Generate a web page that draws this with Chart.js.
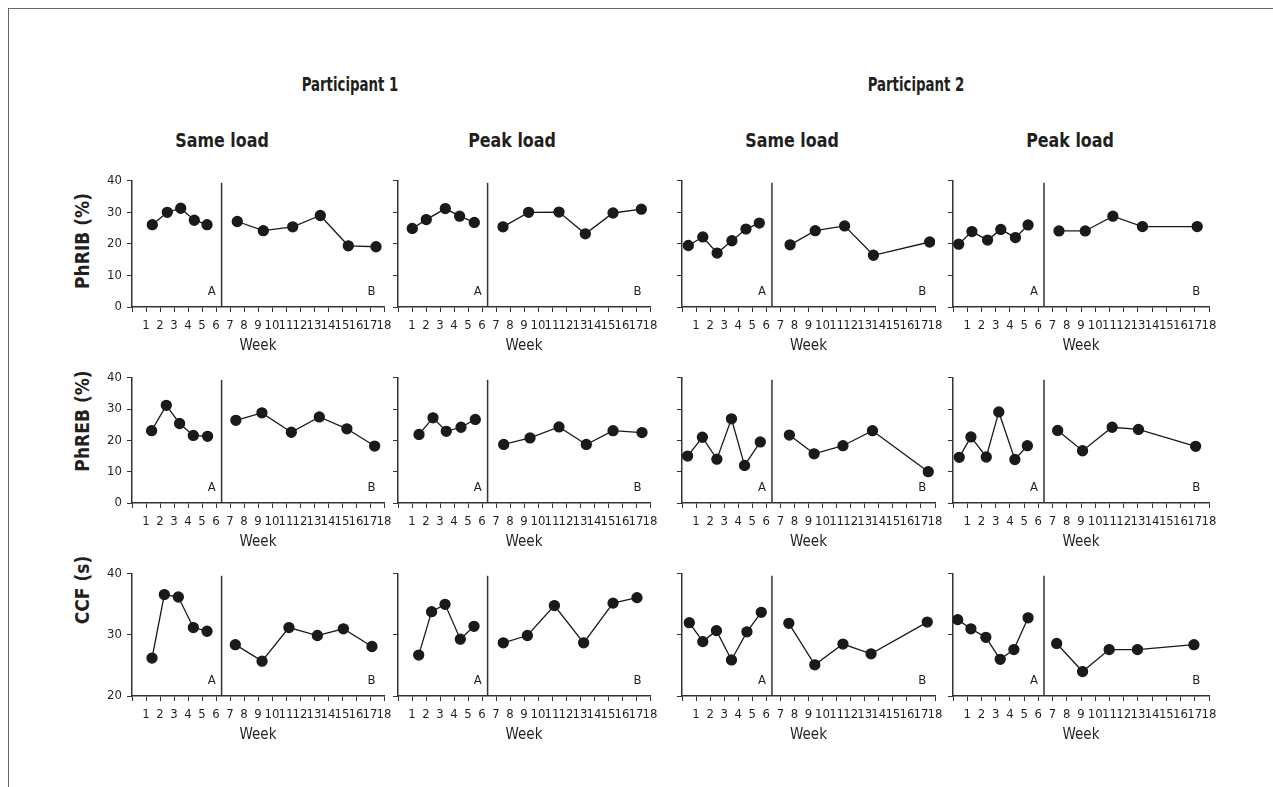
<!DOCTYPE html>
<html>
<head>
<meta charset="utf-8">
<script src="https://cdn.jsdelivr.net/npm/chart.js@4.4.1/dist/chart.umd.min.js"></script>
<style>
  body { margin: 0; background: #fff; width: 1273px; height: 787px; overflow: hidden; position: relative;
         font-family: 'Liberation Sans Narrow', 'DejaVu Sans Condensed', sans-serif; color: #231f20; }
  .frame { position: absolute; left: 8px; top: 8px; width: 1300px; height: 800px;
           border-top: 1px solid #666; border-left: 1px solid #666; }
  .title { position: absolute; font-weight: bold; font-size: 19px; transform: translate(-50%, -50%) scaleX(0.93); white-space: nowrap; }
  .title.big { font-size: 19px; transform: translate(-50%, -50%) scaleX(0.78); }
  .ylab { position: absolute; font-weight: bold; font-size: 19px; white-space: nowrap;
          transform: translate(-50%, -50%) rotate(-90deg); }
  canvas { position: absolute; }
</style>
</head>
<body>
<div class="frame"></div>
<div id="root"></div>
<script>
// week positions and values, phase A (baseline) and phase B
const ribP1SameA = [[1.45, 26.1], [2.52, 30.0], [3.48, 31.3], [4.45, 27.5], [5.36, 26.1]];
const ribP1SameB = [[7.52, 27.1], [9.38, 24.2], [11.48, 25.4], [13.45, 29.0], [15.45, 19.4], [17.43, 19.1]];
const ribP1PeakA = [[1.02, 24.9], [2.02, 27.7], [3.38, 31.2], [4.40, 28.8], [5.45, 26.8]];
const ribP1PeakB = [[7.5, 25.4], [9.33, 30.0], [11.5, 30.1], [13.38, 23.2], [15.36, 29.8], [17.38, 31.0]];
const ribP2SameA = [[0.45, 19.5], [1.48, 22.2], [2.5, 17.1], [3.55, 21.0], [4.55, 24.7], [5.5, 26.6]];
const ribP2SameB = [[7.69, 19.7], [9.48, 24.2], [11.57, 25.7], [13.62, 16.4], [17.62, 20.6]];
const ribP2PeakA = [[0.4, 19.9], [1.33, 23.9], [2.43, 21.2], [3.36, 24.6], [4.39, 22.0], [5.28, 26.0]];
const ribP2PeakB = [[7.45, 24.1], [9.3, 24.1], [11.24, 28.8], [13.32, 25.5], [17.17, 25.5]];

const rebP1SameA = [[1.4, 23.1], [2.45, 31.2], [3.4, 25.4], [4.38, 21.6], [5.4, 21.3]];
const rebP1SameB = [[7.42, 26.4], [9.28, 28.8], [11.38, 22.6], [13.38, 27.5], [15.35, 23.7], [17.33, 18.2]];
const rebP1PeakA = [[1.5, 21.9], [2.5, 27.2], [3.45, 22.9], [4.5, 24.2], [5.52, 26.7]];
const rebP1PeakB = [[7.55, 18.7], [9.43, 20.8], [11.5, 24.3], [13.45, 18.7], [15.36, 23.1], [17.43, 22.5]];
const rebP2SameA = [[0.4, 15.0], [1.45, 21.0], [2.48, 14.0], [3.52, 26.9], [4.45, 12.0], [5.57, 19.5]];
const rebP2SameB = [[7.64, 21.7], [9.4, 15.7], [11.45, 18.3], [13.55, 23.1], [17.52, 10.0]];
const rebP2PeakA = [[0.44, 14.6], [1.26, 21.1], [2.34, 14.7], [3.22, 29.1], [4.35, 13.9], [5.23, 18.3]];
const rebP2PeakB = [[7.36, 23.2], [9.11, 16.7], [11.19, 24.2], [13.04, 23.5], [17.06, 18.1]];

const ccfP1SameA = [[1.43, 26.2], [2.31, 36.6], [3.31, 36.2], [4.38, 31.2], [5.36, 30.6]];
const ccfP1SameB = [[7.38, 28.4], [9.29, 25.7], [11.21, 31.2], [13.24, 29.9], [15.1, 31.0], [17.14, 28.1]];
const ccfP1PeakA = [[1.48, 26.7], [2.4, 33.8], [3.36, 35.0], [4.45, 29.3], [5.43, 31.4]];
const ccfP1PeakB = [[7.52, 28.7], [9.24, 29.9], [11.17, 34.8], [13.26, 28.7], [15.36, 35.2], [17.07, 36.1]];
const ccfP2SameA = [[0.52, 32.0], [1.48, 28.9], [2.45, 30.7], [3.52, 25.9], [4.62, 30.5], [5.64, 33.7]];
const ccfP2SameB = [[7.6, 31.9], [9.45, 25.1], [11.45, 28.5], [13.45, 26.9], [17.45, 32.1]];
const ccfP2PeakA = [[0.33, 32.5], [1.26, 31.0], [2.31, 29.6], [3.32, 26.0], [4.28, 27.6], [5.28, 32.8]];
const ccfP2PeakB = [[7.29, 28.6], [9.11, 24.0], [10.98, 27.6], [12.97, 27.6], [16.94, 28.4]];

const participants = ['Participant 1', 'Participant 2'];
const conditions = ['Same load', 'Peak load', 'Same load', 'Peak load'];
const measures = ['PhRIB (%)', 'PhREB (%)', 'CCF (s)'];
const yRanges = [[0, 40], [0, 40], [20, 40]];
const weekRange = [0, 18];
const phaseSplit = 6.4;
const phaseLabels = [['A', 5.7], ['B', 17.1]];

const panels = [
  [[ribP1SameA, ribP1SameB], [ribP1PeakA, ribP1PeakB], [ribP2SameA, ribP2SameB], [ribP2PeakA, ribP2PeakB]],
  [[rebP1SameA, rebP1SameB], [rebP1PeakA, rebP1PeakB], [rebP2SameA, rebP2SameB], [rebP2PeakA, rebP2PeakB]],
  [[ccfP1SameA, ccfP1SameB], [ccfP1PeakA, ccfP1PeakB], [ccfP2SameA, ccfP2SameB], [ccfP2PeakA, ccfP2PeakB]]
];

// plot-area placement on the page
const colBox = [[132, 252], [398, 252], [682, 253], [953, 256]];
const rowBox = [[178, 129], [375, 128], [571, 125]];
const FONT = "'Liberation Sans Narrow', 'DejaVu Sans Condensed', sans-serif";
const INK = '#231f20';
const AXIS_W = 40, AXIS_H = 48, PAD_T = 10, PAD_R = 16;

Chart.defaults.font.family = FONT;
Chart.defaults.color = INK;

const root = document.getElementById('root');

function addText(cls, text, x, y) {
  const d = document.createElement('div');
  d.className = cls;
  d.textContent = text;
  d.style.left = x + 'px';
  d.style.top = y + 'px';
  root.appendChild(d);
}

addText('title big', participants[0], 350, 84);
addText('title big', participants[1], 916, 84);
[222, 512, 792, 1070].forEach((x, i) => addText('title', conditions[i], x, 140));
[241, 421, 590].forEach((y, i) => addText('ylab', measures[i], 82, y));

const phasePlugin = {
  id: 'phase',
  beforeDatasetsDraw(chart) {
    const { ctx, chartArea, scales } = chart;
    const x = scales.x.getPixelForValue(phaseSplit);
    ctx.save();
    ctx.strokeStyle = '#333';
    ctx.lineWidth = 1.5;
    ctx.beginPath();
    ctx.moveTo(x, chartArea.top + 2);
    ctx.lineTo(x, chartArea.bottom);
    ctx.stroke();
    ctx.fillStyle = INK;
    ctx.font = '13px ' + FONT;
    ctx.textAlign = 'center';
    ctx.textBaseline = 'middle';
    phaseLabels.forEach(([t, v]) => {
      ctx.fillText(t, scales.x.getPixelForValue(v), chartArea.bottom - 15);
    });
    ctx.restore();
  }
};

function series(points) {
  return {
    data: points.map(([x, y]) => ({ x, y })),
    showLine: true,
    borderColor: '#1a1a1a',
    backgroundColor: '#1a1a1a',
    borderWidth: 1.3,
    pointRadius: 5,
    pointHoverRadius: 5,
    tension: 0
  };
}

panels.forEach((row, r) => {
  row.forEach(([phaseA, phaseB], c) => {
    const [left, w] = colBox[c];
    const [top, h] = rowBox[r];
    const canvas = document.createElement('canvas');
    canvas.width = w + AXIS_W + PAD_R;
    canvas.height = h + PAD_T + AXIS_H;
    canvas.style.left = (left - AXIS_W) + 'px';
    canvas.style.top = (top - PAD_T) + 'px';
    root.appendChild(canvas);

    new Chart(canvas, {
      type: 'scatter',
      data: { datasets: [series(phaseA), series(phaseB)] },
      options: {
        responsive: false,
        animation: false,
        layout: { padding: { top: PAD_T, right: PAD_R, left: 0, bottom: 0 } },
        plugins: { legend: { display: false }, tooltip: { enabled: false } },
        scales: {
          x: {
            type: 'linear',
            min: weekRange[0],
            max: weekRange[1],
            afterFit: s => { s.height = AXIS_H; },
            border: { display: true, color: '#333', width: 1.5 },
            grid: { drawOnChartArea: false, drawTicks: true, tickLength: 5, color: '#333' },
            ticks: {
              stepSize: 1, autoSkip: false, maxRotation: 0, padding: 6,
              font: { size: 13 }, color: INK,
              callback: v => (v === 0 ? '' : v)
            },
            title: { display: true, text: 'Week', font: { size: 15 }, color: INK, padding: { top: 0, bottom: 0 } }
          },
          y: {
            min: yRanges[r][0],
            max: yRanges[r][1],
            afterFit: s => { s.width = AXIS_W; },
            border: { display: true, color: '#333', width: 1.5 },
            grid: { drawOnChartArea: false, drawTicks: true, tickLength: 5, color: '#333' },
            ticks: {
              stepSize: 10, padding: 5, font: { size: 13 }, color: INK,
              callback: v => (c === 0 ? v : '')
            }
          }
        }
      },
      plugins: [phasePlugin]
    });
  });
});
</script>
</body>
</html>
